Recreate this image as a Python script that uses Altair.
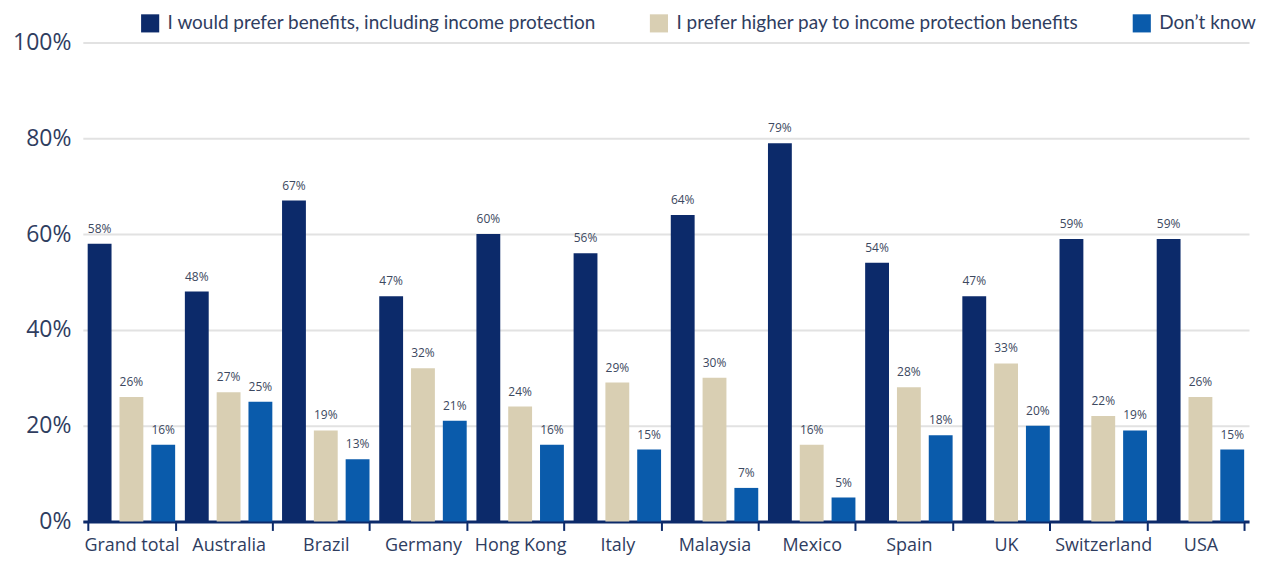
import altair as alt
import pandas as pd

countries = ["Grand total", "Australia", "Brazil", "Germany", "Hong Kong", "Italy",
             "Malaysia", "Mexico", "Spain", "UK", "Switzerland", "USA"]
series = ["I would prefer benefits, including income protection",
          "I prefer higher pay to income protection benefits",
          "Don\u2019t know"]
prefer_benefits = [58, 48, 67, 47, 60, 56, 64, 79, 54, 47, 59, 59]
prefer_pay = [26, 27, 19, 32, 24, 29, 30, 16, 28, 33, 22, 26]
dont_know = [16, 25, 13, 21, 16, 15, 7, 5, 18, 20, 19, 15]
colors = ["#0c2a6a", "#d9cfb3", "#0a5bab"]

rows = []
for i, c in enumerate(countries):
    for s, vals in zip(series, [prefer_benefits, prefer_pay, dont_know]):
        rows.append({"country": c, "series": s, "value": vals[i],
                     "label": f"{vals[i]}%"})
df = pd.DataFrame(rows)

FONT = "Open Sans"
LFONT = "Lato"
TXT = "#2f3d5f"

x = alt.X("country:N", sort=countries, title=None,
          scale=alt.Scale(paddingInner=0.1, paddingOuter=0.05),
          axis=alt.Axis(labelAngle=0, labelFontSize=18, labelColor=TXT, labelFont=FONT,
                        domainColor="#0c2a6a", domainWidth=3, tickColor="#0c2a6a",
                        tickWidth=2, tickSize=9, tickBand="extent", labelPadding=6))
xo = alt.XOffset("series:N", sort=series,
                 scale=alt.Scale(paddingInner=0.25, paddingOuter=0))

base = alt.Chart(df)

bars = base.mark_bar().encode(
    x=x, xOffset=xo,
    y=alt.Y("value:Q", title=None,
            scale=alt.Scale(domain=[0, 100]),
            axis=alt.Axis(values=[0, 20, 40, 60, 80, 100], labelExpr="datum.value + '%'",
                          labelFontSize=23, labelColor=TXT, labelFont=FONT,
                          domain=False, ticks=False, labelPadding=12,
                          gridColor="#e2e2e2", gridWidth=2)),
    color=alt.Color("series:N", sort=series,
                    scale=alt.Scale(domain=series, range=colors),
                    legend=alt.Legend(title=None, orient="none", direction="horizontal",
                                      legendX=58, legendY=-29, symbolType="square",
                                      symbolSize=330, symbolStrokeWidth=0, symbolOpacity=1,
                                      labelFontSize=19, labelFont=LFONT, labelColor=TXT,
                                      columnPadding=53, labelLimit=600, labelOffset=8)),
)

labels = base.mark_text(baseline="bottom", dy=-8, fontSize=12, font=FONT,
                        color="#3c4860").encode(
    x=x, xOffset=xo, y="value:Q", text="label:N")

chart = alt.layer(bars, labels).properties(
    width=1169, height=480,
    autosize=alt.AutoSizeParams(type="none"),
    padding={"left": 75, "top": 34, "right": 10, "bottom": 40},
).configure_view(stroke=None).configure_axisY(grid=True).configure_axisX(grid=False)

chart.save("out.html", embed_options={"renderer": "svg", "actions": False})
